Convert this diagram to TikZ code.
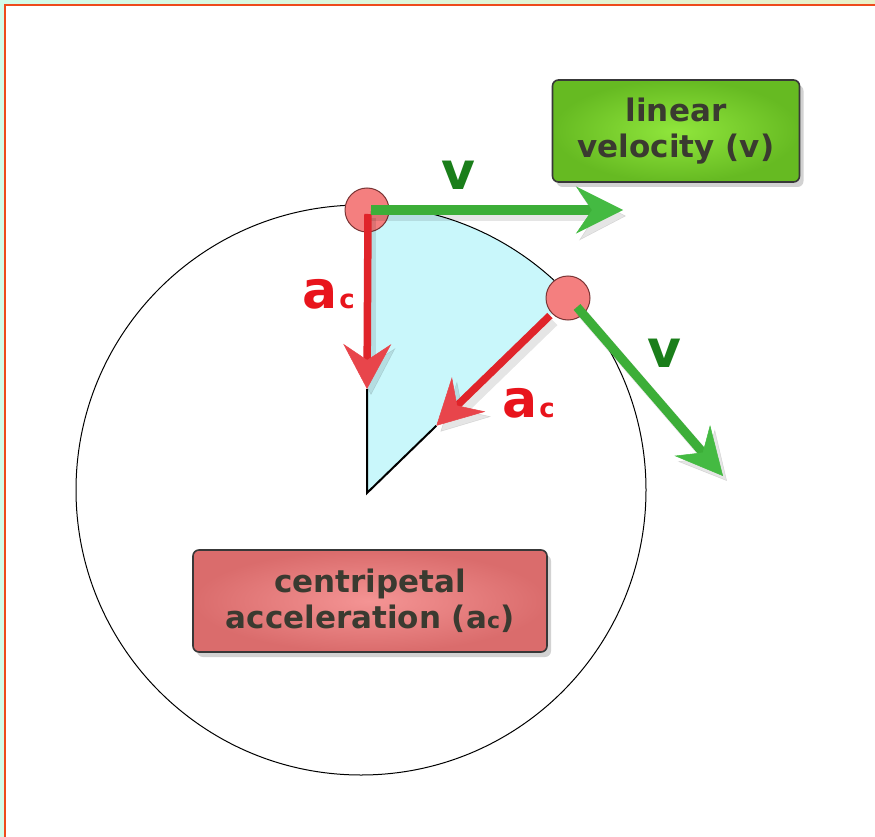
\documentclass[tikz,border=0pt]{standalone}
\usepackage{fontspec}
\setmainfont{DejaVu Sans}
\usetikzlibrary{arrows.meta,shadows,calc}
\definecolor{mint}{HTML}{D3FBE9}
\definecolor{beige}{HTML}{EAF0C8}
\definecolor{frameorange}{HTML}{EE4A1C}
\definecolor{sectorcyan}{HTML}{C9F7FB}
\definecolor{arrred}{HTML}{E0242A}
\definecolor{arrredhead}{HTML}{E8454B}
\definecolor{arrgreen}{HTML}{3CAE38}
\definecolor{arrgreenhead}{HTML}{44BA42}
\definecolor{labgreen}{HTML}{1A7E1A}
\definecolor{labred}{HTML}{E8141C}
\definecolor{ballfill}{HTML}{F47F7F}
\definecolor{ballline}{HTML}{7A3434}
\definecolor{boxtext}{HTML}{3A3A30}
\definecolor{gin}{HTML}{90E63C}
\definecolor{gout}{HTML}{66BA22}
\definecolor{rin}{HTML}{F49494}
\definecolor{rout}{HTML}{DA6C6C}
\begin{document}
\begin{tikzpicture}[x=1pt,y=-1pt,
  ball/.style={circle,draw=ballline,line width=1pt,fill=ballfill,minimum size=44pt,inner sep=0pt},
  redarrow/.style={draw=arrred,line width=7.5pt,-{Stealth[length=45pt,width=48pt,inset=16pt,line width=0.5pt,color=arrredhead]}},
  greenarrow/.style={draw=arrgreen,line width=9pt,-{Stealth[length=47pt,width=47pt,inset=16pt,line width=0.5pt,color=arrgreenhead]}},
  arrshadow/.style={draw=black,opacity=0.10,line width=10pt,-{Stealth[length=47pt,width=49pt,inset=16pt,line width=0.5pt,color=black]}},
  radline/.style={draw=black,line width=2pt},
  infobox/.style={rounded corners=6pt,draw=black!78,line width=1.6pt,
     minimum height=102pt,align=center,text=boxtext,
     font=\fontsize{31}{36}\selectfont\bfseries,
     drop shadow={opacity=0.35,shadow xshift=4pt,shadow yshift=-5pt}},
  biglab/.style={inner sep=0pt,font=\fontsize{52}{52}\selectfont\bfseries},
  sublab/.style={inner sep=0pt,font=\fontsize{26}{26}\selectfont\bfseries}
]
\useasboundingbox (0,0) rectangle (875,837);
% frame
\fill[mint] (0,0) rectangle (875,837);
\shade[left color=mint,right color=beige] (0,0) rectangle (875,5);
\fill[white] (5,6) rectangle (875,837);
\draw[frameorange,line width=2pt] (4.5,837) -- (4.5,5.5) -- (875,5.5);

% geometry
\coordinate (C) at (361,490);
\coordinate (V) at (367,493);
\coordinate (arcA) at ($(C)+(-88.79:285)$);
% sector
\fill[sectorcyan] (V) -- (arcA) arc[start angle=-88.79,end angle=-42.85,radius=285] -- cycle;
% circle
\draw[black,line width=1pt] (C) circle[radius=285];

% balls
\node[ball] (b1) at (367,210) {};
\node[ball] (b2) at (568,298) {};

% tips and starts
\coordinate (a1tip) at (367,389);
\coordinate (a2tip) at ($(V)!0.345!(b2)$);
\coordinate (a2start) at ($(b2)!0.09!(V)$);
\coordinate (v1tip) at (623,210);
\coordinate (v2tip) at (723,476);
\coordinate (v2start) at (577,307);

% radius lines
\draw[radline] (a1tip) -- (V) -- (a2tip);

% arrow shadows
\draw[arrshadow] ($(b1.center)+(4,8)$) -- ($(a1tip)+(4,6)$);
\draw[arrshadow] ($(a2start)+(4,6)$) -- ($(a2tip)+(4,6)$);
\draw[arrshadow] ($(b1.center)+(3,6)$) -- ($(v1tip)+(3,6)$);
\draw[arrshadow] ($(v2start)+(4,5)$) -- ($(v2tip)+(4,5)$);

% arrows
\draw[redarrow] ($(b1.center)+(1,4)$) -- (a1tip);
\draw[redarrow] (a2start) -- (a2tip);
\draw[greenarrow] ($(b1.center)+(4,0)$) -- (v1tip);
\draw[greenarrow] (v2start) -- (v2tip);

% labels
\node[biglab,text=labgreen] (v1) at (458,175) {v};
\node[biglab,text=labgreen] (v2) at (664,353) {v};
\node[biglab,text=labred] (a1) at (320,294) {a};
\node[sublab,text=labred] (c1) at (347,301) {c};
\node[biglab,text=labred] (a2) at (520,403) {a};
\node[sublab,text=labred] (c2) at (547,410) {c};

% boxes
\node[infobox,minimum width=247pt,inner color=gin,outer color=gout] (lv) at (676,131) {linear\\velocity (v)};
\node[infobox,minimum width=354pt,inner color=rin,outer color=rout] (ca) at (370,601) {centripetal\\acceleration (a{\fontsize{22}{22}\selectfont c})};
\end{tikzpicture}
\end{document}
